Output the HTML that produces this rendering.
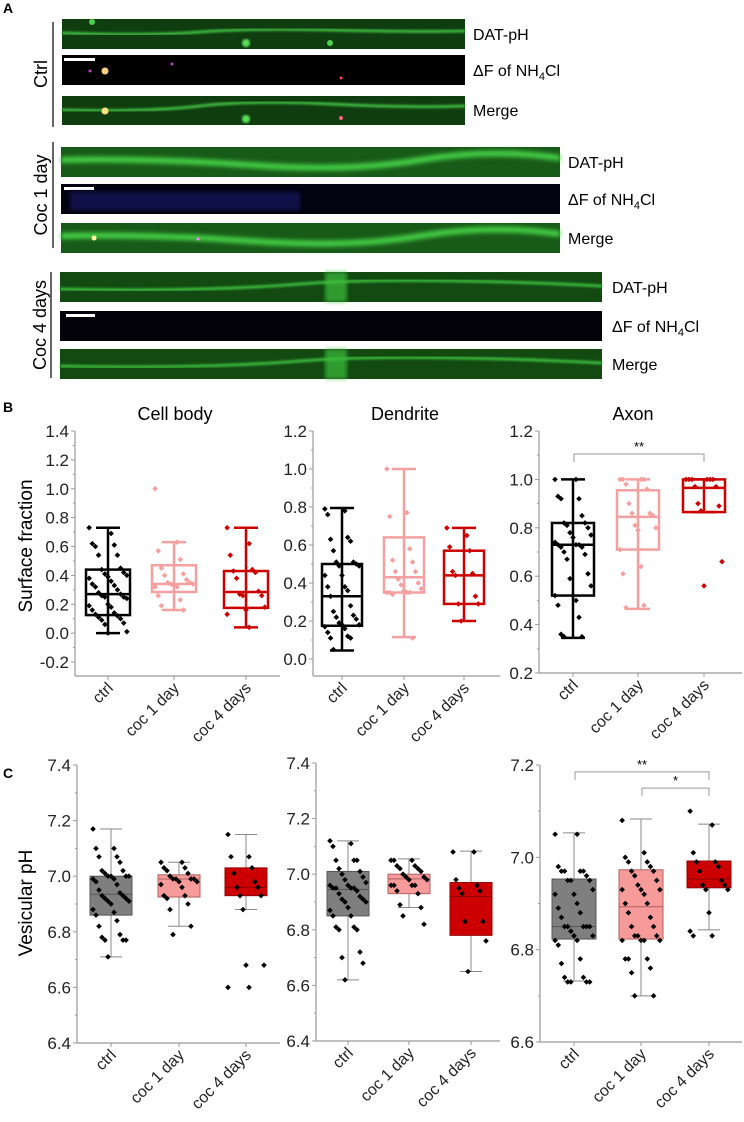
<!DOCTYPE html>
<html><head><meta charset="utf-8">
<style>
html,body{margin:0;padding:0;background:#fff;}
svg{display:block;font-family:"Liberation Sans",Arial,sans-serif;}
</style></head>
<body>
<svg id="fig" width="744" height="1122" viewBox="0 0 744 1122" xmlns="http://www.w3.org/2000/svg">
<defs>
<filter id="blur2" x="-5%" y="-50%" width="110%" height="200%"><feGaussianBlur stdDeviation="2"/></filter>
<filter id="blur1"><feGaussianBlur stdDeviation="1"/></filter>
</defs>
<g>
<text x="3" y="13" font-size="14" font-weight="bold">A</text>
<line x1="53" y1="22" x2="53" y2="127" stroke="#000" stroke-width="1.2"/>
<text transform="translate(47,74) rotate(-90)" font-size="18" text-anchor="middle">Ctrl</text>
<g>
<rect x="62" y="19" width="403" height="30" fill="#0f3d0f"/>
<path d="M62 33 Q150 36 200 32 T330 30 T465 31" stroke="#3fb83f" stroke-width="3" fill="none" filter="url(#blur1)"/>
<circle cx="246" cy="43" r="4" fill="#5be05b" filter="url(#blur1)"/><circle cx="92" cy="22" r="3" fill="#4fd04f"/><circle cx="330" cy="43" r="3" fill="#4fd04f"/>
</g>
<g>
<rect x="62" y="55" width="403" height="30" fill="#000"/>
<rect x="64" y="58" width="31" height="3" fill="#fff"/>
<circle cx="105" cy="71" r="3.5" fill="#ffd080"/><circle cx="90" cy="71" r="1.5" fill="#d040d0"/><circle cx="172" cy="64" r="1.5" fill="#c040c0"/><circle cx="341" cy="78" r="1.5" fill="#ff4060"/>
</g>
<g>
<rect x="62" y="96" width="403" height="29" fill="#0f3d0f"/>
<path d="M62 110 Q150 112 200 106 T330 104 T465 106" stroke="#3fb83f" stroke-width="3" fill="none" filter="url(#blur1)"/>
<circle cx="105" cy="111" r="3.5" fill="#ffe080"/><circle cx="246" cy="119" r="4" fill="#5be05b" filter="url(#blur1)"/><circle cx="341" cy="118" r="2" fill="#ff6080"/>
</g>
<text x="473" y="40" font-size="16">DAT-pH</text>
<text x="473" y="76" font-size="16">ΔF of NH<tspan font-size="11" dy="4">4</tspan><tspan dy="-4">Cl</tspan></text>
<text x="473" y="116" font-size="16">Merge</text>
<line x1="53" y1="142" x2="53" y2="248" stroke="#000" stroke-width="1.2"/>
<text transform="translate(47,195) rotate(-90)" font-size="18" text-anchor="middle">Coc 1 day</text>
<g>
<rect x="61" y="147" width="499" height="30" fill="#185a18"/>
<path d="M61 160 Q150 158 250 165 T420 160 T560 158" stroke="#45d045" stroke-width="6" fill="none" filter="url(#blur2)"/>
</g>
<g>
<rect x="61" y="184" width="499" height="30" fill="#020210"/>
<rect x="64" y="187" width="30" height="3" fill="#fff"/>
<rect x="70" y="192" width="230" height="18" fill="#1a1a70" opacity="0.6" filter="url(#blur2)"/>
</g>
<g>
<rect x="61" y="223" width="499" height="30" fill="#185a18"/>
<path d="M61 236 Q150 234 250 241 T420 236 T560 234" stroke="#45d045" stroke-width="6" fill="none" filter="url(#blur2)"/>
<circle cx="94" cy="238" r="2.5" fill="#ffffa0"/><circle cx="198" cy="239" r="1.5" fill="#ff80ff"/>
</g>
<text x="568" y="168" font-size="16">DAT-pH</text>
<text x="568" y="205" font-size="16">ΔF of NH<tspan font-size="11" dy="4">4</tspan><tspan dy="-4">Cl</tspan></text>
<text x="568" y="244" font-size="16">Merge</text>
<line x1="51" y1="272" x2="51" y2="378" stroke="#000" stroke-width="1.2"/>
<text transform="translate(46,325) rotate(-90)" font-size="18" text-anchor="middle">Coc 4 days</text>
<g>
<rect x="60" y="272" width="542" height="30" fill="#124a12"/>
<path d="M60 289 Q200 292 300 284 T602 286" stroke="#3bb83b" stroke-width="3" fill="none" filter="url(#blur1)"/>
<rect x="325" y="272" width="22" height="30" fill="#3cc03c" opacity="0.7" filter="url(#blur2)"/>
</g>
<g>
<rect x="60" y="311" width="542" height="30" fill="#020208"/>
<rect x="66" y="314" width="29" height="3" fill="#fff"/>
</g>
<g>
<rect x="60" y="349" width="542" height="30" fill="#124a12"/>
<path d="M60 366 Q200 369 300 361 T602 363" stroke="#3bb83b" stroke-width="3" fill="none" filter="url(#blur1)"/>
<rect x="325" y="349" width="22" height="30" fill="#3cc03c" opacity="0.7" filter="url(#blur2)"/>
</g>
<text x="612" y="293" font-size="16">DAT-pH</text>
<text x="612" y="332" font-size="16">ΔF of NH<tspan font-size="11" dy="4">4</tspan><tspan dy="-4">Cl</tspan></text>
<text x="612" y="370" font-size="16">Merge</text>
</g>
<text x="3" y="412" font-size="14" font-weight="bold">B</text>
<text x="3" y="778" font-size="14" font-weight="bold">C</text>
<text transform="translate(32,546) rotate(-90)" font-size="19" text-anchor="middle">Surface fraction</text>
<text transform="translate(32,903) rotate(-90)" font-size="19" text-anchor="middle">Vesicular pH</text>
<g id="charts"></g>
</svg>
<script>
const categories = ["ctrl", "coc 1 day", "coc 4 days"];
const bCellStats = [[0, 0.125, 0.27, 0.44, 0.73], [0.16, 0.285, 0.34, 0.47, 0.63], [0.04, 0.175, 0.285, 0.43, 0.73]];
const bCellPts = [
 [0.73,0.69,0.62,0.61,0.60,0.54,0.54,0.45,0.44,0.42,0.41,0.40,0.39,0.38,0.36,0.34,0.33,0.32,0.30,0.28,0.27,0.26,0.25,0.25,0.24,0.20,0.19,0.18,0.16,0.14,0.13,0.12,0.11,0.10,0.09,0.07,0.06,0.01,0.0],
 [1.0,0.63,0.57,0.51,0.45,0.41,0.40,0.37,0.35,0.35,0.34,0.34,0.33,0.32,0.32,0.26,0.23,0.19,0.16],
 [0.73,0.62,0.54,0.44,0.43,0.42,0.38,0.29,0.27,0.26,0.26,0.18,0.16,0.13,0.04]];
const bDendStats = [[0.045, 0.175, 0.33, 0.50, 0.795], [0.115, 0.35, 0.43, 0.64, 1.0], [0.2, 0.29, 0.44, 0.57, 0.69]];
const bDendPts = [
 [0.79,0.78,0.76,0.64,0.63,0.62,0.57,0.51,0.51,0.50,0.49,0.49,0.44,0.44,0.38,0.38,0.36,0.33,0.28,0.25,0.23,0.22,0.21,0.19,0.18,0.18,0.17,0.16,0.14,0.12,0.11,0.11,0.05],
 [1.0,0.77,0.75,0.58,0.52,0.51,0.46,0.46,0.42,0.40,0.39,0.37,0.36,0.35,0.35,0.35,0.35,0.34,0.11],
 [0.69,0.65,0.59,0.57,0.46,0.45,0.44,0.33,0.29,0.29,0.2]];
const bAxonStats = [[0.345, 0.52, 0.73, 0.82, 1.0], [0.465, 0.71, 0.845, 0.955, 1.0], [0.865, 0.865, 0.965, 1.0, 1.0]];
const bAxonPts = [
 [1.0,1.0,0.93,0.92,0.92,0.85,0.82,0.82,0.81,0.8,0.78,0.77,0.76,0.74,0.73,0.73,0.73,0.72,0.72,0.70,0.69,0.67,0.61,0.59,0.56,0.52,0.52,0.50,0.48,0.43,0.36,0.35,0.35],
 [1.0,1.0,1.0,1.0,0.98,0.96,0.90,0.86,0.86,0.85,0.81,0.80,0.79,0.71,0.64,0.61,0.48,0.47],
 [1.0,1.0,1.0,1.0,1.0,1.0,0.97,0.97,0.90,0.89,0.87,0.66,0.56]];
const cCellStats = [[6.71, 6.86, 6.935, 7.0, 7.17], [6.82, 6.925, 6.99, 7.005, 7.05], [6.88, 6.93, 6.96, 7.03, 7.15]];
const cCellPts = [
 [7.17,7.1,7.1,7.07,7.07,7.05,7.02,7.02,7.01,7.0,7.0,7.0,7.0,6.99,6.99,6.98,6.97,6.95,6.94,6.93,6.93,6.92,6.92,6.91,6.91,6.90,6.88,6.87,6.86,6.84,6.82,6.79,6.78,6.77,6.77,6.77,6.71],
 [7.05,7.05,7.03,7.03,7.02,7.01,7.0,6.99,6.99,6.99,6.99,6.98,6.98,6.97,6.96,6.93,6.93,6.92,6.9,6.88,6.82,6.79],
 [7.15,7.07,7.07,7.03,7.01,6.98,6.96,6.96,6.93,6.93,6.88,6.68,6.68,6.6,6.6]];
const cDendStats = [[6.62, 6.85, 6.945, 7.01, 7.12], [6.88, 6.93, 6.983, 7.0, 7.055], [6.65, 6.78, 6.92, 6.97, 7.083]];
const cDendPts = [
 [7.12,7.11,7.1,7.05,7.05,7.05,7.02,7.01,7.0,6.99,6.98,6.97,6.96,6.96,6.95,6.95,6.95,6.95,6.94,6.93,6.92,6.91,6.91,6.90,6.90,6.88,6.87,6.85,6.85,6.81,6.81,6.80,6.80,6.72,6.70,6.68,6.62],
 [7.05,7.05,7.05,7.03,7.03,7.02,7.02,7.01,7.0,6.99,6.99,6.98,6.98,6.96,6.96,6.96,6.96,6.94,6.93,6.89,6.88,6.85,6.82],
 [7.08,7.08,6.98,6.96,6.95,6.94,6.93,6.83,6.83,6.76,6.65]];
const cAxonStats = [[6.732, 6.823, 6.85, 6.953, 7.053], [6.70, 6.823, 6.893, 6.973, 7.083], [6.843, 6.934, 6.953, 6.992, 7.072]];
const cAxonPts = [
 [7.05,7.05,6.98,6.97,6.97,6.97,6.97,6.96,6.95,6.95,6.95,6.93,6.92,6.92,6.9,6.89,6.88,6.87,6.85,6.85,6.85,6.85,6.85,6.84,6.83,6.83,6.82,6.82,6.81,6.78,6.77,6.74,6.74,6.73,6.73,6.73,6.73],
 [7.08,7.01,7.0,6.99,6.99,6.98,6.97,6.97,6.96,6.95,6.94,6.93,6.93,6.93,6.92,6.9,6.9,6.88,6.87,6.85,6.85,6.83,6.83,6.83,6.82,6.82,6.82,6.82,6.78,6.78,6.78,6.76,6.75,6.70,6.70],
 [7.1,7.07,7.01,6.99,6.99,6.98,6.97,6.95,6.94,6.94,6.93,6.93,6.88,6.84,6.83,6.83]];
const bTicksCell = ["-0.2","0.0","0.2","0.4","0.6","0.8","1.0","1.2","1.4"];
const bTicksDend = ["0.0","0.2","0.4","0.6","0.8","1.0","1.2"];
const bTicksAxon = ["0.2","0.4","0.6","0.8","1.0","1.2"];
const cTicksCellDend = ["6.4","6.6","6.8","7.0","7.2","7.4"];
const cTicksAxon = ["6.6","6.8","7.0","7.2"];

const NS = "http://www.w3.org/2000/svg";
const root = document.getElementById("charts");
function mk(tag, attrs, parent) {
  const e = document.createElementNS(NS, tag);
  for (const k in attrs) e.setAttribute(k, attrs[k]);
  (parent || root).appendChild(e);
  return e;
}
const bColors = ["#000000", "#f4a0a0", "#cc0000"];
const cFills = ["#7f7f7f", "#f79a9a", "#cc0000"];
const cStroke = ["#555555", "#b06060", "#900000"];

function chart(cfg) {
  const g = mk("g", {});
  
  
  const y = v => cfg.y0 + (v - cfg.v0) * (cfg.y1 - cfg.y0) / (cfg.v1 - cfg.v0);
  const ax = mk("g", {}, g);
  
  
  mk("line", {x1: cfg.ax, y1: cfg.axTop, x2: cfg.ax, y2: cfg.axBot, stroke: "#999", "stroke-width": 1.2}, ax);
  mk("line", {x1: cfg.ax, y1: cfg.axBot, x2: cfg.axRight, y2: cfg.axBot, stroke: "#999", "stroke-width": 1.2}, ax);
  cfg.ticks.forEach((t, i) => {
    const v = parseFloat(t), yy = y(v);
    mk("line", {x1: cfg.ax - 4, y1: yy, x2: cfg.ax, y2: yy, stroke: "#999", "stroke-width": 1}, ax);
    if (i < cfg.ticks.length - 1) {
      const ym = y(v + (parseFloat(cfg.ticks[1]) - parseFloat(cfg.ticks[0])) / 2);
      mk("line", {x1: cfg.ax - 2, y1: ym, x2: cfg.ax, y2: ym, stroke: "#999", "stroke-width": 1}, ax);
    }
    const tx = mk("text", {x: cfg.ax - 6, y: yy + 6, "font-size": 17, "text-anchor": "end", fill: "#222"}, ax);
    
    
    tx.textContent = t;
  });
  categories.forEach((c, i) => {
    const x = cfg.cx[i];
    mk("line", {x1: x, y1: cfg.axBot, x2: x, y2: cfg.axBot + 4, stroke: "#999", "stroke-width": 1}, ax);
    const tx = mk("text", {transform: `translate(${x + 6},${cfg.axBot + 13}) rotate(-45)`, "font-size": 16, "text-anchor": "end", fill: "#222"}, ax);
    
    
    tx.textContent = c;
  });
  if (cfg.title) {
    const t = mk("text", {x: cfg.titleX, y: 420, "font-size": 18, "text-anchor": "middle"}, g);
    
    
    t.textContent = cfg.title;
  }
  cfg.stats.forEach((s, i) => {
    const x = cfg.cx[i], hw = cfg.hw;
    const bg = mk("g", {}, g);
    
    
    if (cfg.filled) {
      mk("line", {x1: x, y1: y(s[0]), x2: x, y2: y(s[4]), stroke: "#888", "stroke-width": 1}, bg);
      mk("line", {x1: x - 11, y1: y(s[0]), x2: x + 11, y2: y(s[0]), stroke: "#888", "stroke-width": 1}, bg);
      mk("line", {x1: x - 11, y1: y(s[4]), x2: x + 11, y2: y(s[4]), stroke: "#888", "stroke-width": 1}, bg);
      mk("rect", {x: x - hw, y: y(s[3]), width: 2 * hw, height: y(s[1]) - y(s[3]), fill: cFills[i], stroke: cStroke[i], "stroke-width": 1}, bg);
      mk("line", {x1: x - hw, y1: y(s[2]), x2: x + hw, y2: y(s[2]), stroke: cStroke[i], "stroke-width": 1}, bg);
    } else {
      const col = bColors[i];
      mk("line", {x1: x, y1: y(s[0]), x2: x, y2: y(s[4]), stroke: col, "stroke-width": 2.5}, bg);
      mk("line", {x1: x - 12, y1: y(s[0]), x2: x + 12, y2: y(s[0]), stroke: col, "stroke-width": 2.5}, bg);
      mk("line", {x1: x - 12, y1: y(s[4]), x2: x + 12, y2: y(s[4]), stroke: col, "stroke-width": 2.5}, bg);
      mk("rect", {x: x - hw, y: y(s[3]), width: 2 * hw, height: y(s[1]) - y(s[3]), fill: "none", stroke: col, "stroke-width": 2.5}, bg);
      mk("line", {x1: x - hw, y1: y(s[2]), x2: x + hw, y2: y(s[2]), stroke: col, "stroke-width": 2.5}, bg);
    }
    cfg.pts[i].forEach((v, j) => {
      const off = (((j * 7) % 13) - 6) * (cfg.hw / 7);
      const p = mk("path", {d: `M${x + off} ${y(v) - 2.8}l2.8 2.8l-2.8 2.8l-2.8 -2.8z`, fill: cfg.filled ? "#000" : bColors[i]}, g);
      
      
    });
  });
  (cfg.sig || []).forEach(sg => {
    const yy = y(sg.v), x1 = cfg.cx[sg.a] + 1, x2 = cfg.cx[sg.b];
    const sgG = mk("g", {}, g);
    
    
    mk("path", {d: `M${x1} ${yy + 8}V${yy}H${x2}V${yy + 8}`, fill: "none", stroke: "#999", "stroke-width": 1}, sgG);
    const t = mk("text", {x: (x1 + x2) / 2, y: yy - 3, "font-size": 13, "text-anchor": "middle"}, sgG);
    t.textContent = sg.t;
  });
}

chart({name: "cell-body-surface-chart", title: "Cell body", titleX: 175, ax: 75, axTop: 431, axBot: 676, axRight: 280,
  v0: 1.4, y0: 431, v1: -0.2, y1: 662, ticks: bTicksCell, cx: [108, 174, 246], hw: 22, stats: bCellStats, pts: bCellPts});
chart({name: "dendrite-surface-chart", title: "Dendrite", titleX: 405, ax: 313, axTop: 431, axBot: 676, axRight: 500,
  v0: 1.2, y0: 431, v1: 0, y1: 659, ticks: bTicksDend, cx: [342, 404, 464], hw: 20, stats: bDendStats, pts: bDendPts});
chart({name: "axon-surface-chart", title: "Axon", titleX: 633, ax: 539, axTop: 431, axBot: 673, axRight: 742,
  v0: 1.2, y0: 431, v1: 0.2, y1: 673, ticks: bTicksAxon, cx: [573, 638, 704], hw: 21, stats: bAxonStats, pts: bAxonPts,
  sig: [{a: 0, b: 2, v: 1.105, t: "**"}]});
chart({name: "cell-body-ph-chart", ax: 77, axTop: 765, axBot: 1043, axRight: 280, filled: true,
  v0: 7.4, y0: 765, v1: 6.4, y1: 1043, ticks: cTicksCellDend, cx: [111, 179, 246], hw: 21, stats: cCellStats, pts: cCellPts});
chart({name: "dendrite-ph-chart", ax: 316, axTop: 763, axBot: 1041, axRight: 500, filled: true,
  v0: 7.4, y0: 763, v1: 6.4, y1: 1041, ticks: cTicksCellDend, cx: [348, 409, 471], hw: 21, stats: cDendStats, pts: cDendPts});
chart({name: "axon-ph-chart", ax: 540, axTop: 765, axBot: 1042, axRight: 742, filled: true,
  v0: 7.2, y0: 765, v1: 6.6, y1: 1042, ticks: cTicksAxon, cx: [574, 641, 709], hw: 22, stats: cAxonStats, pts: cAxonPts,
  sig: [{a: 0, b: 2, v: 7.185, t: "**"}, {a: 1, b: 2, v: 7.15, t: "*"}]});
</script>
</body></html>
